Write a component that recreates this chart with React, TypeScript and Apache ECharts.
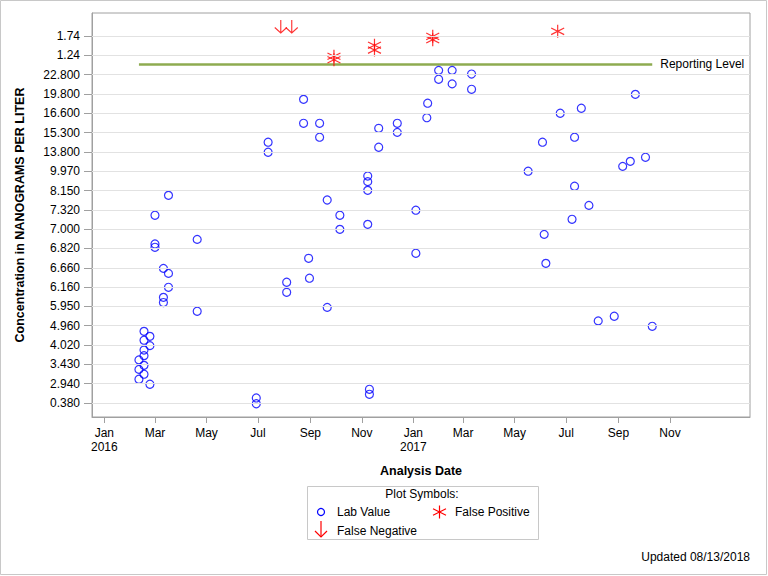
import React, { useEffect, useRef } from 'react';
import * as echarts from 'echarts';

// Ordered y-axis tick labels (bottom to top); points are placed by slot position on this ordinal scale
const yTickLabels = ['0.380', '2.940', '3.430', '4.020', '4.960', '5.950', '6.160', '6.660', '6.820', '7.000', '7.320', '8.150', '9.970', '13.800', '15.300', '16.600', '19.800', '22.800', '1.24', '1.74'];

const xTickDates = ['2016-01-01', '2016-03-01', '2016-05-01', '2016-07-01', '2016-09-01', '2016-11-01', '2017-01-01', '2017-03-01', '2017-05-01', '2017-07-01', '2017-09-01', '2017-11-01'];
const xTickLabels = ['Jan\n2016', 'Mar', 'May', 'Jul', 'Sep', 'Nov', 'Jan\n2017', 'Mar', 'May', 'Jul', 'Sep', 'Nov'];

// [analysis date, position on the y scale]
const labValues: [string, number][] = [
  ['2016-02-11', 2.23], ['2016-02-11', 1.74], ['2016-02-11', 1.23],
  ['2016-02-17', 3.71], ['2016-02-17', 3.25], ['2016-02-17', 2.74], ['2016-02-17', 2.45], ['2016-02-17', 1.95], ['2016-02-17', 1.49],
  ['2016-02-24', 3.45], ['2016-02-24', 2.97], ['2016-02-24', 0.97],
  ['2016-03-01', 9.72], ['2016-03-01', 8.23], ['2016-03-01', 8.06],
  ['2016-03-11', 6.97], ['2016-03-11', 5.47], ['2016-03-11', 5.2],
  ['2016-03-17', 10.75], ['2016-03-17', 6.71], ['2016-03-17', 5.99],
  ['2016-04-20', 8.47], ['2016-04-20', 4.75],
  ['2016-06-29', 0.26], ['2016-06-29', -0.04],
  ['2016-07-13', 13.5], ['2016-07-13', 12.98],
  ['2016-08-04', 6.25], ['2016-08-04', 5.73],
  ['2016-08-24', 15.72], ['2016-08-24', 14.48],
  ['2016-08-30', 7.49], ['2016-08-31', 6.46],
  ['2016-09-12', 14.48], ['2016-09-12', 13.76],
  ['2016-09-21', 10.51], ['2016-09-21', 4.95],
  ['2016-10-06', 9.72], ['2016-10-06', 8.99],
  ['2016-11-08', 11.75], ['2016-11-08', 11.46], ['2016-11-08', 11.01], ['2016-11-08', 9.25],
  ['2016-11-10', 0.71], ['2016-11-10', 0.45],
  ['2016-11-21', 14.22], ['2016-11-21', 13.24],
  ['2016-12-13', 14.48], ['2016-12-13', 14.01],
  ['2017-01-04', 9.98], ['2017-01-04', 7.75],
  ['2017-01-17', 14.77], ['2017-01-18', 15.52],
  ['2017-01-31', 17.22], ['2017-01-31', 16.76],
  ['2017-02-16', 17.22], ['2017-02-16', 16.52],
  ['2017-03-11', 17.03], ['2017-03-11', 16.24],
  ['2017-05-17', 12.0],
  ['2017-06-03', 13.5], ['2017-06-05', 8.73], ['2017-06-07', 7.23],
  ['2017-06-24', 15.0],
  ['2017-07-08', 9.51], ['2017-07-11', 13.76], ['2017-07-11', 11.22],
  ['2017-07-19', 15.26], ['2017-07-28', 10.23],
  ['2017-08-08', 4.25], ['2017-08-27', 4.49],
  ['2017-09-06', 12.25], ['2017-09-15', 12.51], ['2017-09-21', 15.98],
  ['2017-10-03', 12.72], ['2017-10-11', 3.97],
];

const falsePositives: [string, number][] = [
  ['2016-09-29', 17.95], ['2016-09-29', 17.77],
  ['2016-11-16', 18.52], ['2016-11-16', 18.27],
  ['2017-01-24', 18.98], ['2017-01-24', 18.81],
  ['2017-06-21', 19.24],
];

const falseNegatives: [string, number][] = [
  ['2016-07-28', 19.49], ['2016-08-10', 19.49],
];

const reportingLevel = 17.53;

const BASE = Date.UTC(2016, 0, 1);
const toDay = (s: string) => {
  const [y, m, d] = s.split('-').map(Number);
  return (Date.UTC(y, m - 1, d) - BASE) / 86400000;
};

const FONT = '"Liberation Sans", Arial, sans-serif';
const ASTERISK = 'path://M6.5 0 L6.5 13 M0 3.2 L13 9.8 M0 9.8 L13 3.2';
const ARROW = 'path://M6 0 L6 13 M0.5 7.5 L6 13 L11.5 7.5';

export default function App() {
  const ref = useRef<HTMLDivElement>(null);
  useEffect(() => {
    if (!ref.current) return;
    const chart = echarts.init(ref.current, null, { renderer: 'svg' });
    const tickDays = xTickDates.map(toDay);
    const allDays = labValues.map((d) => toDay(d[0]));
    const minDay = Math.min(...allDays);
    const maxDay = Math.max(...allDays);

    const option: any = {
      animation: false,
      backgroundColor: '#fff',
      textStyle: { fontFamily: FONT },
      grid: { left: 92, right: 18, top: 13, bottom: 159, show: true, borderColor: '#a0a0a0', borderWidth: 1, backgroundColor: 'transparent' },
      xAxis: {
        type: 'value',
        min: -14.6,
        max: 764.8,
        name: 'Analysis Date',
        nameLocation: 'middle',
        nameGap: 47,
        nameTextStyle: { fontWeight: 'bold', fontSize: 12.5, color: '#000', fontFamily: FONT },
        axisLine: { show: true, onZero: false, lineStyle: { color: '#a0a0a0' } },
        axisTick: { show: true, length: 6, customValues: tickDays, lineStyle: { color: '#a0a0a0' } },
        axisLabel: {
          customValues: tickDays,
          margin: 9,
          color: '#000',
          fontSize: 12,
          fontFamily: FONT,
          lineHeight: 14,
          formatter: (v: number) => {
            const i = tickDays.findIndex((t) => Math.abs(t - v) < 0.01);
            return i >= 0 ? xTickLabels[i] : '';
          },
        },
        splitLine: { show: false },
      },
      yAxis: {
        type: 'value',
        min: -0.725,
        max: 20.19,
        name: 'Concentration in NANOGRAMS PER LITER',
        nameLocation: 'middle',
        nameGap: 66,
        nameRotate: 90,
        nameTextStyle: { fontWeight: 'bold', fontSize: 12.5, color: '#000', fontFamily: FONT },
        axisLine: { show: true, onZero: false, lineStyle: { color: '#a0a0a0' } },
        axisTick: { show: true, length: 8, customValues: yTickLabels.map((_, i) => i), lineStyle: { color: '#a0a0a0' } },
        axisLabel: {
          customValues: yTickLabels.map((_, i) => i),
          margin: 12,
          color: '#000',
          fontSize: 12,
          fontFamily: FONT,
          formatter: (v: number) => yTickLabels[Math.round(v)] ?? '',
        },
        splitLine: { show: false },
      },
      series: [
        {
          type: 'line',
          z: 1,
          data: [],
          silent: true,
          markLine: {
            silent: true,
            symbol: 'none',
            label: { show: false },
            lineStyle: { color: '#e2e2e2', width: 1, type: 'solid' },
            data: yTickLabels.map((_, i) => ({ yAxis: i })),
          },
        },
        {
          name: 'Reporting Level',
          type: 'line',
          z: 2,
          symbol: 'none',
          data: [[minDay, reportingLevel], [maxDay, reportingLevel]],
          lineStyle: { color: '#8EAB50', width: 2.5 },
          endLabel: { show: true, formatter: 'Reporting Level', color: '#000', fontSize: 12, fontFamily: FONT, distance: 8 },
        },
        {
          name: 'Lab Value',
          type: 'scatter',
          z: 3,
          symbol: 'circle',
          symbolSize: 8,
          itemStyle: { color: 'rgba(0,0,0,0)', borderColor: '#0000FF', borderWidth: 1.2 },
          data: labValues.map((d) => [toDay(d[0]), d[1]]),
        },
        {
          name: 'False Positive',
          type: 'scatter',
          z: 3,
          symbol: ASTERISK,
          symbolSize: [13, 13],
          itemStyle: { color: 'rgba(0,0,0,0)', borderColor: '#FF0000', borderWidth: 1.2 },
          data: falsePositives.map((d) => [toDay(d[0]), d[1]]),
        },
        {
          name: 'False Negative',
          type: 'scatter',
          z: 3,
          symbol: ARROW,
          symbolSize: [12, 13],
          itemStyle: { color: 'rgba(0,0,0,0)', borderColor: '#FF0000', borderWidth: 1.2 },
          data: falseNegatives.map((d) => [toDay(d[0]), d[1]]),
        },
      ],
      graphic: [
        { type: 'rect', shape: { x: 0.5, y: 0.5, width: 766, height: 574 }, style: { fill: 'none', stroke: '#c8c8c8', lineWidth: 1 }, silent: true },
        { type: 'rect', shape: { x: 307.5, y: 486.5, width: 231, height: 53 }, style: { fill: 'none', stroke: '#c8c8c8', lineWidth: 1 }, silent: true },
        { type: 'text', x: 422, y: 494, style: { text: 'Plot Symbols:', fill: '#000', font: `12px ${FONT}`, align: 'center', verticalAlign: 'middle' } },
        { type: 'circle', shape: { cx: 321, cy: 512, r: 3.5 }, style: { fill: 'none', stroke: '#0000FF', lineWidth: 1.2 } },
        { type: 'text', x: 337, y: 512, style: { text: 'Lab Value', fill: '#000', font: `12px ${FONT}`, align: 'left', verticalAlign: 'middle' } },
        { type: 'line', shape: { x1: 439.5, y1: 505.5, x2: 439.5, y2: 518.5 }, style: { stroke: '#FF0000', lineWidth: 1.2 } },
        { type: 'line', shape: { x1: 433, y1: 508.7, x2: 446, y2: 515.3 }, style: { stroke: '#FF0000', lineWidth: 1.2 } },
        { type: 'line', shape: { x1: 433, y1: 515.3, x2: 446, y2: 508.7 }, style: { stroke: '#FF0000', lineWidth: 1.2 } },
        { type: 'text', x: 455, y: 512, style: { text: 'False Positive', fill: '#000', font: `12px ${FONT}`, align: 'left', verticalAlign: 'middle' } },
        { type: 'line', shape: { x1: 321, y1: 521, x2: 321, y2: 537 }, style: { stroke: '#FF0000', lineWidth: 1.2 } },
        { type: 'polyline', shape: { points: [[315, 531], [321, 537], [327, 531]] }, style: { fill: 'none', stroke: '#FF0000', lineWidth: 1.2 } },
        { type: 'text', x: 337, y: 531, style: { text: 'False Negative', fill: '#000', font: `12px ${FONT}`, align: 'left', verticalAlign: 'middle' } },
        { type: 'text', x: 750, y: 557, style: { text: 'Updated 08/13/2018', fill: '#000', font: `12px ${FONT}`, align: 'right', verticalAlign: 'middle' } },
      ],
    };
    chart.setOption(option);
    return () => chart.dispose();
  }, []);
  return <div ref={ref} style={{ position: 'fixed', left: 0, top: 0, width: 768, height: 576 }} />;
}
